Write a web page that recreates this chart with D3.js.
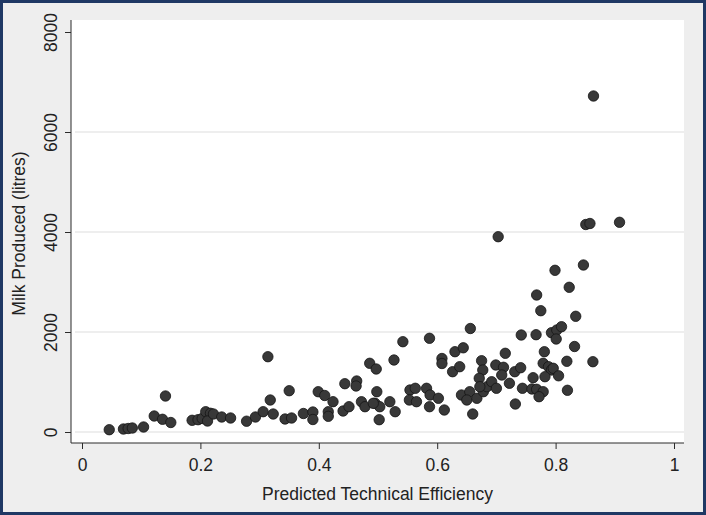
<!DOCTYPE html>
<html>
<head>
<meta charset="utf-8">
<script src="https://cdn.jsdelivr.net/npm/d3@7"></script>
<style>
  html, body { margin: 0; padding: 0; background: #ffffff; }
  svg { display: block; }
  text { font-family: "Liberation Sans", Arial, sans-serif; }
</style>
</head>
<body>
<svg id="chart" width="706" height="515"></svg>
<script>
// Predicted technical efficiency (x) and milk produced in litres (y)
const efficiency = [
  0.046, 0.070, 0.078, 0.085, 0.104, 0.122, 0.141, 0.136, 0.150, 0.186,
  0.196, 0.203, 0.209, 0.217, 0.212, 0.222, 0.236, 0.251, 0.278, 0.293,
  0.306, 0.314, 0.318, 0.323, 0.343, 0.354, 0.350, 0.374, 0.390, 0.390,
  0.399, 0.410, 0.416, 0.416, 0.424, 0.441, 0.451, 0.444, 0.464, 0.463,
  0.472, 0.478, 0.486, 0.497, 0.495, 0.498, 0.502, 0.503, 0.520, 0.529,
  0.527, 0.542, 0.587, 0.554, 0.563, 0.553, 0.565, 0.582, 0.588, 0.602,
  0.587, 0.612, 0.608, 0.608, 0.630, 0.644, 0.626, 0.638, 0.656, 0.675,
  0.699, 0.677, 0.671, 0.641, 0.655, 0.650, 0.660, 0.667, 0.678, 0.684,
  0.692, 0.672, 0.700, 0.712, 0.709, 0.715, 0.722, 0.731, 0.741, 0.732,
  0.744, 0.742, 0.767, 0.760, 0.768, 0.779, 0.772, 0.762, 0.779, 0.788,
  0.793, 0.782, 0.796, 0.805, 0.781, 0.819, 0.820, 0.863, 0.832, 0.793,
  0.802, 0.810, 0.801, 0.775, 0.834, 0.768, 0.823, 0.799, 0.847, 0.703,
  0.851, 0.858, 0.908, 0.864, 0.492
];
const milk = [
  46, 60, 70, 80, 100, 320, 720, 254, 190, 234,
  246, 270, 406, 374, 220, 360, 300, 280, 216, 300,
  406, 1506, 640, 360, 260, 280, 826, 370, 400, 250,
  806, 730, 406, 314, 606, 420, 506, 966, 1020, 920,
  606, 506, 1374, 1260, 574, 806, 246, 506, 606, 406,
  1440, 1806, 1874, 840, 874, 640, 606, 874, 740, 674,
  506, 440, 1470, 1370, 1606, 1684, 1206, 1306, 2070, 1426,
  1340, 1240, 1074, 740, 806, 640, 360, 674, 806, 906,
  1006, 906, 874, 1294, 1140, 1574, 974, 1206, 1286, 560,
  874, 1940, 1946, 860, 854, 806, 706, 1086, 1374, 1306,
  1240, 1106, 1274, 1124, 1606, 1414, 834, 1406, 1710, 1986,
  2040, 2106, 1860, 2426, 2314, 2740, 2894, 3234, 3340, 3906,
  4150, 4170, 4194, 6720, 574
];
const xTicks = [0, 0.2, 0.4, 0.6, 0.8, 1];
const xTickLabels = ["0", "0.2", "0.4", "0.6", "0.8", "1"];
const yTicks = [0, 2000, 4000, 6000, 8000];
const yTickLabels = ["0", "2000", "4000", "6000", "8000"];
const gridValues = [0, 2000, 4000, 6000];
const xTitle = "Predicted Technical Efficiency";
const yTitle = "Milk Produced (litres)";

const W = 706, H = 515;
const plot = { left: 71, right: 684, top: 20, bottom: 443 };
const svg = d3.select("#chart");

// frame + background
svg.append("rect").attr("x", 0).attr("y", 0).attr("width", W).attr("height", H).attr("fill", "#1f3864");
svg.append("rect").attr("x", 3).attr("y", 3).attr("width", W - 6).attr("height", H - 6).attr("fill", "#eeeeee");
svg.append("rect")
  .attr("x", plot.left).attr("y", plot.top)
  .attr("width", plot.right - plot.left).attr("height", plot.bottom - plot.top)
  .attr("fill", "#ffffff");

const x = d3.scaleLinear().domain([0, 1]).range([82, 674]);
const y = d3.scaleLinear().domain([0, 8000]).range([432, 32]);

// gridlines
svg.append("g").selectAll("line").data(gridValues).join("line")
  .attr("x1", plot.left + 4).attr("x2", plot.right)
  .attr("y1", d => y(d)).attr("y2", d => y(d))
  .attr("stroke", "#e9e9e9").attr("stroke-width", 1.5);

// y axis
const yAxis = d3.axisLeft(y).tickValues(yTicks).tickSize(6)
  .tickFormat((d, i) => yTickLabels[i]);
const gy = svg.append("g").attr("transform", `translate(${plot.left},0)`).call(yAxis);
gy.select(".domain").attr("d", `M0,${plot.top}V${plot.bottom}`).attr("stroke", "#2b2b2b");
gy.selectAll(".tick line").attr("stroke", "#2b2b2b");
gy.selectAll(".tick text")
  .attr("x", null).attr("dy", null)
  .attr("transform", "translate(-14,0) rotate(-90)")
  .attr("text-anchor", "middle")
  .attr("font-size", 17.5)
  .attr("fill", "#222");

// x axis
const xAxis = d3.axisBottom(x).tickValues(xTicks).tickSize(6)
  .tickFormat((d, i) => xTickLabels[i]);
const gx = svg.append("g").attr("transform", `translate(0,${plot.bottom})`).call(xAxis);
gx.select(".domain").attr("d", `M${plot.left},0H${plot.right}`).attr("stroke", "#2b2b2b");
gx.selectAll(".tick line").attr("stroke", "#2b2b2b");
gx.selectAll(".tick text")
  .attr("y", 28).attr("dy", null)
  .attr("font-size", 17.5)
  .attr("fill", "#222");

// titles
svg.append("text")
  .attr("x", (plot.left + plot.right) / 2).attr("y", 500)
  .attr("text-anchor", "middle").attr("font-size", 17.5).attr("fill", "#222")
  .text(xTitle);
svg.append("text")
  .attr("transform", `translate(25,${(plot.top + plot.bottom) / 2 + 2}) rotate(-90)`)
  .attr("text-anchor", "middle").attr("font-size", 17.5).attr("fill", "#222")
  .text(yTitle);

// points
const pts = efficiency.map((e, i) => ({ e, m: milk[i] }));
svg.append("g").selectAll("circle").data(pts).join("circle")
  .attr("cx", d => x(d.e)).attr("cy", d => y(d.m))
  .attr("r", 5.2)
  .attr("fill", "#383838")
  .attr("stroke", "#151515")
  .attr("stroke-width", 0.8);
</script>
</body>
</html>
